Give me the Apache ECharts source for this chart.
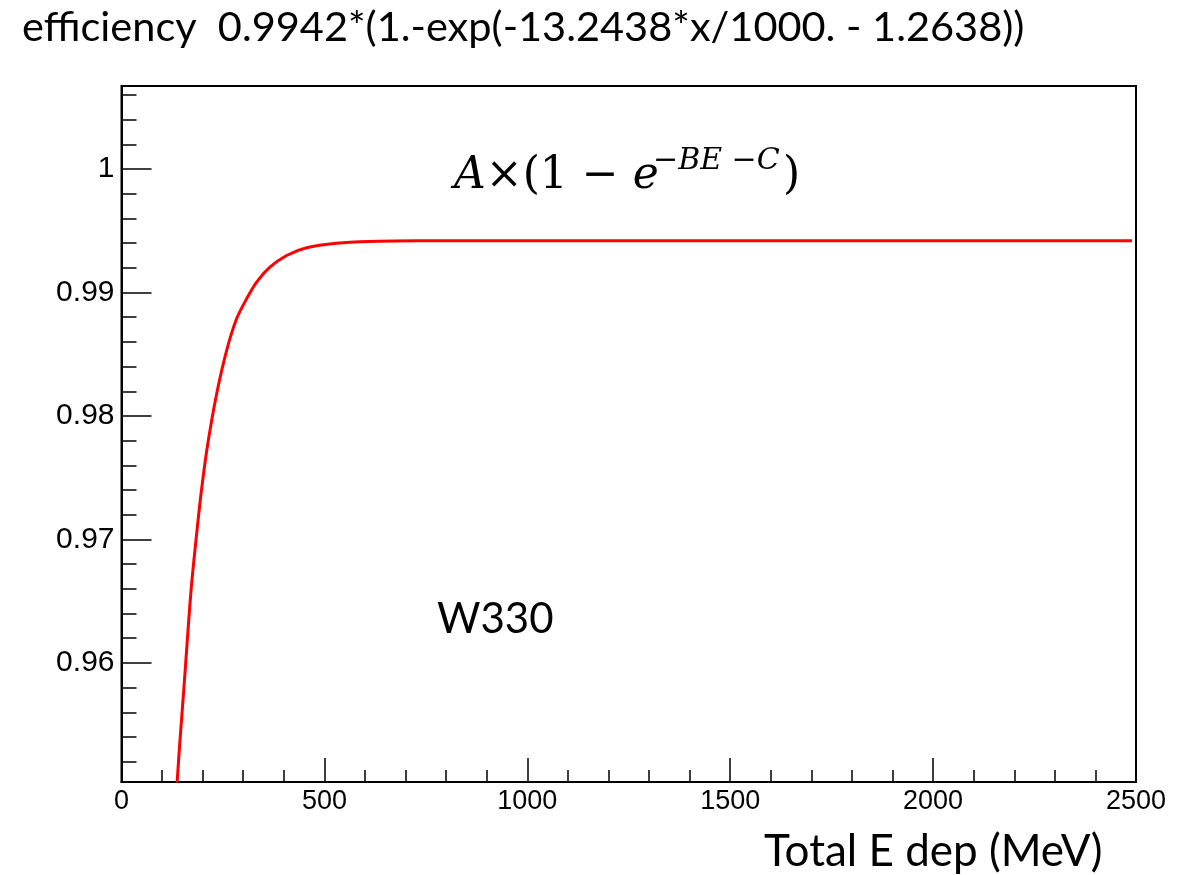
<!DOCTYPE html>
<html>
<head>
<meta charset="utf-8">
<script src="https://cdn.jsdelivr.net/npm/echarts@6/dist/echarts.min.js"></script>
<style>html,body{margin:0;padding:0;background:#fff}#c{width:1194px;height:875px}</style>
</head>
<body>
<div id="c"></div>
<script>
// Values
const energy = [137, 144, 154.5, 164.4, 172.7, 185.1, 196, 211.2, 234.4, 259, 283.6, 308.3, 333, 365.7, 406.9, 456.1, 530, 612, 735, 900, 1200, 1600, 2000, 2490];
const efficiency = [0.9503, 0.95367, 0.95827, 0.96286, 0.96638, 0.97043, 0.9737, 0.97745, 0.98178, 0.9853, 0.98787, 0.98949, 0.99084, 0.99205, 0.993, 0.99363, 0.994, 0.99414, 0.99419, 0.9942, 0.9942, 0.9942, 0.9942, 0.9942];
const yMajorTicks = [0.96, 0.97, 0.98, 0.99, 1.0];
const yMinorTicks = [0.952, 0.954, 0.956, 0.958, 0.962, 0.964, 0.966, 0.968, 0.972, 0.974, 0.976, 0.978, 0.982, 0.984, 0.986, 0.988, 0.992, 0.994, 0.996, 0.998, 1.002, 1.004, 1.006];
const xRange = [0, 2500];
const yRange = [0.95035, 1.00673];
const titleText = 'efficiency  0.9942*(1.-exp(-13.2438*x/1000. - 1.2638))';
const xTitle = 'Total E dep (MeV)';
const label = 'W330';
const formulaMain = 'A×(1 − e';
const formulaSup = '−BE −C';
const formulaEnd = ')';

const chart = echarts.init(document.getElementById('c'), null, {renderer: 'canvas'});
const fmt = v => String(Number(Number(v).toFixed(4)));
const gridPos = {left: 121.5, right: 58, top: 86, bottom: 93};
chart.setOption({
  animation: false,
  backgroundColor: '#fff',
  grid: Object.assign({show: true, borderColor: '#000', borderWidth: 2, backgroundColor: 'transparent'}, gridPos),
  xAxis: {
    type: 'value', min: xRange[0], max: xRange[1], interval: 500,
    axisLine: {show: true, lineStyle: {color: '#000', width: 2}},
    axisTick: {show: true, inside: true, length: 24, lineStyle: {color: '#000', width: 1.5}},
    minorTick: {show: true, splitNumber: 5, length: 12, lineStyle: {color: '#000', width: 1.5}},
    splitLine: {show: false},
    axisLabel: {color: '#000', fontFamily: 'Liberation Sans', fontSize: 27, margin: 6, formatter: fmt}
  },
  yAxis: [{
    type: 'value', min: yRange[0], max: yRange[1],
    axisLine: {show: true, lineStyle: {color: '#000', width: 2}},
    axisTick: {show: true, inside: true, length: 30, customValues: yMajorTicks, lineStyle: {color: '#000', width: 1.5}},
    splitLine: {show: false},
    axisLabel: {color: '#000', fontFamily: 'Liberation Sans', fontSize: 30, margin: 7, customValues: yMajorTicks, formatter: fmt}
  }, {
    type: 'value', min: yRange[0], max: yRange[1], position: 'left',
    axisLine: {show: false},
    axisTick: {show: true, inside: true, length: 15, customValues: yMinorTicks, lineStyle: {color: '#000', width: 1.5}},
    splitLine: {show: false},
    axisLabel: {show: false}
  }],
  series: [{
    type: 'line', data: energy.map((e, i) => [e, efficiency[i]]),
    smooth: 0.3, showSymbol: false, clip: true,
    lineStyle: {color: '#ff0000', width: 3}
  }],
  graphic: [
    {type: 'text', left: 22, top: 7, style: {text: titleText, fill: '#000', font: '41.5px Lato'}},
    {type: 'text', left: 764, top: 830, style: {text: xTitle, fill: '#000', font: '44px Lato'}},
    {type: 'text', left: 437, top: 598, style: {text: label, fill: '#000', font: '42px Lato'}},
    {type: 'text', left: 454, top: 155, style: {
      text: '{i|A}{n|×(1 − }{i|e}',
      rich: {
        i: {font: 'italic 44px "DejaVu Serif"', fill: '#000'},
        n: {font: '44px "DejaVu Serif"', fill: '#000'}
      }
    }},
    {type: 'text', left: 653, top: 146, style: {text: formulaSup, fill: '#000', font: 'italic 30px "DejaVu Serif"'}},
    {type: 'text', left: 783, top: 155, style: {text: formulaEnd, fill: '#000', font: '44px "DejaVu Serif"'}}
  ]
});
</script>
</body>
</html>
